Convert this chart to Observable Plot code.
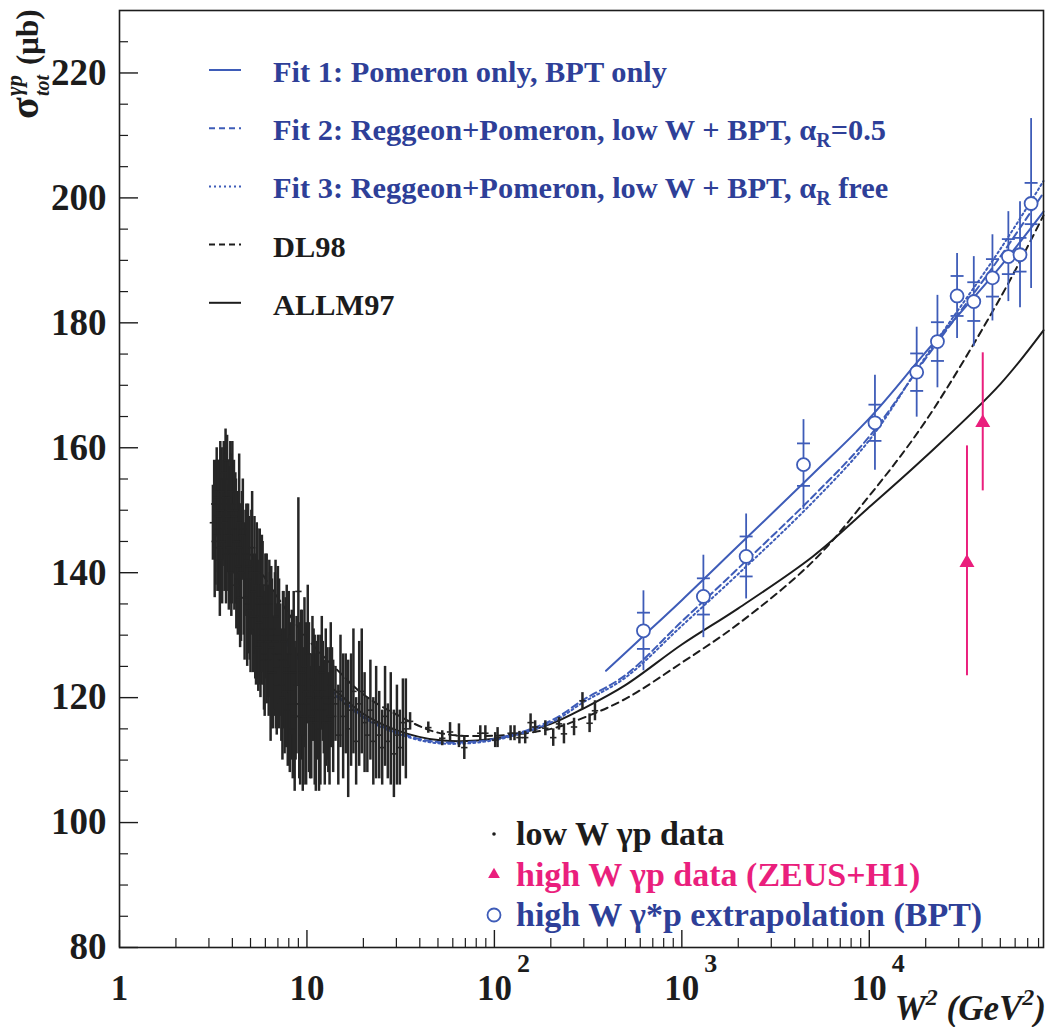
<!DOCTYPE html>
<html><head><meta charset="utf-8">
<script src="https://cdn.jsdelivr.net/npm/d3@7"></script>
<script src="https://cdn.jsdelivr.net/npm/@observablehq/plot@0.6"></script>
<style>body{margin:0;background:#fff}#chart{width:1051px;height:1027px}</style>
</head><body><div id="chart"></div>
<script>
// ---------- data ----------
const curveW2 = [3.2, 5, 7, 10, 15, 20, 30, 50, 100, 200, 300, 500, 1000, 2000, 5000, 10000, 20000, 50000, 85000];
const allm97  = [148, 138, 131.5, 125, 120.5, 117.4, 114.8, 113.2, 113.4, 115.8, 118.3, 122, 128.5, 134.3, 142.6, 150.5, 158.6, 170.2, 178.8];
const dl98    = [155, 143, 136, 129.5, 124, 120.5, 117.3, 114.4, 113.9, 115, 116.8, 119.8, 125.6, 131.8, 141.8, 152.3, 164.3, 184, 197.2];
const fit2    = [147, 138.5, 131, 124.8, 120, 117, 114.5, 112.9, 113.4, 116.3, 119.7, 123.6, 132.2, 140.7, 152.2, 161.8, 174.3, 190.6, 200.8];
const fit3    = [146.5, 138, 130.7, 124.5, 119.7, 116.8, 114.3, 112.7, 113.2, 116, 119.3, 123.2, 131.5, 139.8, 151.3, 161.2, 174.6, 191.8, 202.7];
const fit1W2  = [394, 600, 1000, 2000, 5000, 10000, 20000, 50000, 85000];
const fit1    = [124.3, 129.4, 135.6, 144.3, 155.8, 164.7, 175.3, 189, 197.8];

const lowW2 = [3.15,3.2,3.25,3.3,3.35,3.4,3.45,3.5,3.55,3.6,3.65,3.7,3.75,3.8,3.85,3.9,3.95,4.0,4.05,4.1,4.15,4.2,4.25,4.3,4.35,4.4,4.5,4.6,4.7,4.8,4.9,5.0,5.1,5.2,5.3,5.4,5.5,5.6,5.7,5.8,5.9,6.0,6.2,6.3,6.4,6.5,6.7,6.8,6.9,7.0,7.2,7.4,7.5,7.7,7.9,8.0,8.2,8.4,8.5,8.7,9.0,9.1,9.3,9.5,9.7,9.9,10.1,10.4,10.7,11.0,11.3,11.6,12.0,12.3,12.6,13.0,13.4,13.8,14.2,14.7,15.1,15.6,16.1,16.6,17.2,17.7,18.3,19.0,19.6,20.3,21.0,21.8,22.6,23.4,24.3,25.2,26.1,27.0,28.0,29.1,30.2,31.3,32.5,33.7,
  35.5,44.4,52.7,58,64.7,69.1,84.1,89.5,101,104,122,128,136,146,156,165,187,206,221,235,266,295,322,344];
const lowSig = [148,151,146,153,149,144,155,150,147,156,152,143,158,149,146,153,140,151,147,143,150,138,145,141,148,136,146,139,143,135,141,131,144,137,133,140,128,136,131,138,126,133,129,135,124,131,127,133,122,130,126,120,129,124,118,127,121,115,124,119,137,117,122,114,125,119,127,116,123,118,121,115,124,118,120,116,122,117,119,114,121,117,119,115,118,121,113,119,121,116,114,118,113,116,114,112,117,113,115,111,114,112,116,115,
  116.2,115.2,113.5,114.5,113.9,112,114.3,114.3,113.2,113.6,114.3,114.3,113.6,113.6,116,115.3,115.1,113.6,115.8,114.2,115.3,119.5,115.9,117.9];
const lowErr = [6,7,8,7,9,7,6,8,6,5,7,8,4,9,6,8,7,10,5,9,6,7,8,6,11,8,7,9,7,10,8,7,9,6,10,8,7,11,9,7,8,10,9,7,11,8,10,9,8,11,9,10,8,12,9,10,11,8,13,9,15,10,12,9,11,13,11,9,10,12,8,10,9,7,11,8,10,9,6,8,9,10,8,11,9,10,7,10,10,8,6,8,7,9,7,6,8,6,9,7,8,6,7,8,
  1.4,0.9,1.2,1.5,1.9,1.9,1.2,1.2,1.2,1.6,1.2,1.2,1.0,1.0,1.4,1.0,1.2,1.4,1.0,1.6,1.4,1.3,1.5,1.6];
// additional points of the densely populated low-energy region
const denseW2  = [3.22,3.28,3.33,3.38,3.43,3.48,3.53,3.58,3.63,3.68,3.73,3.78,3.83,3.88,3.93,3.98,4.08,4.18,4.28,4.38,4.45,4.55,4.65,4.75,4.85,4.95,5.05,5.15,5.25,5.35,5.45,5.55,5.65,5.75,5.85,5.95,6.1,6.25,6.35,6.45,6.6,6.75,6.85,7.1,7.3,7.45,7.6,7.8,8.1,8.3,8.6,8.8,9.2,9.4,9.6,9.8,10.25,10.55,10.85,11.15,11.45,11.8,12.15,12.45,12.8,13.2,13.6];
const denseSig = [145,152,147,150,142,153,145,151,148,155,146,152,144,150,147,143,149,145,139,144,140,147,136,142,139,134,140,133,138,130,135,132,129,135,130,127,131,126,130,128,124,129,125,127,122,126,121,125,119,124,117,122,119,124,117,121,120,117,122,116,120,118,121,116,119,117,120];
const denseErr = [9,6,10,8,9,7,10,9,11,8,9,6,10,7,12,8,9,10,9,7,11,8,10,9,12,8,10,9,11,8,12,10,9,11,8,10,12,9,10,13,9,11,10,12,9,11,10,13,11,10,12,11,13,10,11,9,12,10,9,11,10,12,8,10,9,11,8];

const bptW2   = [624, 1303, 2203, 4457, 10720, 17900, 23100, 29400, 36100, 45400, 55200, 63700, 73000];
const bptSig  = [130.7, 136.2, 142.6, 157.3, 164.0, 172.1, 177.0, 184.3, 183.4, 187.2, 190.6, 190.9, 199.1];
const bptStat = [2.9, 2.9, 3.2, 3.4, 2.9, 3.0, 3.1, 3.2, 3.1, 3.0, 2.8, 2.7, 3.3];
const bptTot  = [6.4, 6.6, 6.8, 7.2, 7.6, 7.2, 7.4, 6.8, 7.2, 6.9, 7.2, 8.5, 13.6];

const hiW2  = [33200, 40300];
const hiSig = [141.6, 164.0];
const hiLo  = [123.5, 153.1];
const hiHi  = [160.3, 175.2];

const yMajor = [80, 100, 120, 140, 160, 180, 200, 220];
const yMinor = [85, 90, 95, 105, 110, 115, 125, 130, 135, 145, 150, 155, 165, 170, 175, 185, 190, 195, 205, 210, 215, 225];
const xMajor = [1, 10, 100, 1000, 10000];
const xMinor = [2,3,4,5,6,7,8,9,20,30,40,50,60,70,80,90,200,300,400,500,600,700,800,900,2000,3000,4000,5000,6000,7000,8000,9000,20000,30000,40000,50000,60000,70000,80000];
const xBaseLabels = ["1", "10", "10", "10", "10"];
const xExpLabels = ["", "", "2", "3", "4"];

const legendTop = [
  {key: "fit1", parts: [["Fit 1: Pomeron only, BPT only"]]},
  {key: "fit2", parts: [["Fit 2: Reggeon+Pomeron, low W + BPT, α"], ["R", "sub"], ["=0.5"]]},
  {key: "fit3", parts: [["Fit 3: Reggeon+Pomeron, low W + BPT, α"], ["R", "sub"], [" free"]]},
  {key: "dl98", parts: [["DL98"]]},
  {key: "allm", parts: [["ALLM97"]]}
];
const legendBottom = [
  {key: "low", text: "low W γp data"},
  {key: "high", text: "high W γp data (ZEUS+H1)"},
  {key: "bpt", text: "high W γ*p extrapolation (BPT)"}
];

// ---------- build ----------
const W = 1051, H = 1027, mL = 119, mR = 8, mT = 10, mB = 80;
const pw = W - mL - mR, ph = H - mT - mB;
const serif = "'Liberation Serif','Times New Roman',serif";
const black = "#1c1c1c", blue = "#3e5cb8", blueText = "#2e3f98", pink = "#ea1f7d";

const curveRows = curveW2.map((w, i) => ({w, allm: allm97[i], dl: dl98[i], f2: fit2[i], f3: fit3[i]}));
const fit1Rows = fit1W2.map((w, i) => ({w, s: fit1[i]}));
const lowRows = lowW2.map((w, i) => ({w, s: lowSig[i], e: lowErr[i]}))
  .concat(denseW2.map((w, i) => ({w, s: denseSig[i], e: denseErr[i]})));
const bptRows = bptW2.map((w, i) => ({w, s: bptSig[i], st: bptStat[i], tot: bptTot[i]}));
const hiRows = hiW2.map((w, i) => ({w, s: hiSig[i], lo: hiLo[i], hi: hiHi[i]}));
const xLab = xMajor.map((v, i) => ({v, b: xBaseLabels[i], e: xExpLabels[i]}));

const hline = {draw(ctx, size) { const r = Math.sqrt(size / Math.PI); ctx.moveTo(-r, 0); ctx.lineTo(r, 0); }};

const plot = Plot.plot({
  width: W, height: H,
  marginLeft: mL, marginRight: mR, marginTop: mT, marginBottom: mB,
  x: {type: "log", domain: [1, 85000]},
  y: {domain: [80, 230]},
  style: {background: "white", fontFamily: serif, color: black},
  marks: [
    Plot.tickY(yMajor, {y: d => d, stroke: black, strokeWidth: 1.4, insetRight: pw - 19}),
    Plot.tickY(yMinor, {y: d => d, stroke: black, strokeWidth: 1.2, insetRight: pw - 9}),
    Plot.tickX(xMajor, {x: d => d, stroke: black, strokeWidth: 1.4, insetTop: ph - 17}),
    Plot.tickX(xMinor, {x: d => d, stroke: black, strokeWidth: 1.2, insetTop: ph - 9}),
    Plot.axisY(yMajor, {tickSize: 0, tickPadding: 13, fontSize: 37, fontWeight: "bold", fill: black, label: null}),
    Plot.axisX(xMajor, {tickSize: 0, tickPadding: 28, fontSize: 35, fontWeight: "bold", fill: black, label: null, tickFormat: d => xBaseLabels[xMajor.indexOf(d)]}),
    Plot.text(xLab, {x: "v", text: "e", frameAnchor: "bottom", dx: 29, dy: 24, fontSize: 26, fontWeight: "bold", fill: black}),
    // curves
    Plot.line(curveRows, {x: "w", y: "allm", stroke: black, strokeWidth: 2, curve: "catmull-rom"}),
    Plot.line(curveRows, {x: "w", y: "dl", stroke: black, strokeWidth: 2, strokeDasharray: "7,5", curve: "catmull-rom"}),
    Plot.line(curveRows, {x: "w", y: "f2", stroke: blue, strokeWidth: 2, strokeDasharray: "7,4", curve: "catmull-rom"}),
    Plot.line(curveRows, {x: "w", y: "f3", stroke: blue, strokeWidth: 2, strokeDasharray: "2,3", curve: "catmull-rom"}),
    Plot.line(fit1Rows, {x: "w", y: "s", stroke: blue, strokeWidth: 2, curve: "catmull-rom"}),
    // low W data
    Plot.ruleX(lowRows, {x: "w", y1: d => d.s - d.e, y2: d => d.s + d.e, stroke: "#262626", strokeWidth: 2.5}),
    Plot.dot(lowRows, {x: "w", y: "s", symbol: hline, r: 3.2, fill: "none", stroke: "#262626", strokeWidth: 1.6}),
    // high W BPT
    Plot.ruleX(bptRows, {x: "w", y1: d => d.s - d.tot, y2: d => d.s + d.tot, stroke: blue, strokeWidth: 1.8}),
    Plot.dot(bptRows, {x: "w", y: d => d.s - d.st, symbol: hline, r: 6.5, fill: "none", stroke: blue, strokeWidth: 1.8}),
    Plot.dot(bptRows, {x: "w", y: d => d.s + d.st, symbol: hline, r: 6.5, fill: "none", stroke: blue, strokeWidth: 1.8}),
    Plot.dot(bptRows, {x: "w", y: "s", r: 6.5, fill: "white", stroke: blue, strokeWidth: 1.8}),
    // high W photoproduction
    Plot.ruleX(hiRows, {x: "w", y1: "lo", y2: "hi", stroke: pink, strokeWidth: 2}),
    Plot.dot(hiRows, {x: "w", y: "s", symbol: "triangle", r: 4.6, fill: pink, stroke: pink}),
    Plot.frame({stroke: black, strokeWidth: 1.6})
  ]
});
document.getElementById("chart").appendChild(plot);

const svg = d3.select(plot);
const styles = {
  fit1: {stroke: blue, dash: null, color: blueText},
  fit2: {stroke: blue, dash: "6,4", color: blueText},
  fit3: {stroke: blue, dash: "2,3", color: blueText},
  dl98: {stroke: black, dash: "6,4", color: black},
  allm: {stroke: black, dash: null, color: black}
};
legendTop.forEach((row, i) => {
  const st = styles[row.key];
  const base = 82 + i * 58.2;
  svg.append("line").attr("x1", 209).attr("x2", 241).attr("y1", base - 12).attr("y2", base - 12)
    .attr("stroke", st.stroke).attr("stroke-width", 2).attr("stroke-dasharray", st.dash);
  const t = svg.append("text").attr("x", 273).attr("y", base).attr("text-anchor", "start").attr("font-family", serif)
    .attr("font-weight", "bold").attr("font-size", 30.4).attr("fill", st.color);
  let shifted = false;
  row.parts.forEach(([s, kind]) => {
    if (kind === "sub") { t.append("tspan").attr("font-size", 20).attr("dy", 7).text(s); shifted = true; }
    else { t.append("tspan").attr("dy", shifted ? -7 : 0).text(s); shifted = false; }
  });
});
const bCols = {low: black, high: pink, bpt: blueText};
legendBottom.forEach((row, i) => {
  const base = 845 + i * 40.5;
  const cy = base - 11;
  if (row.key === "low") svg.append("circle").attr("cx", 494).attr("cy", cy).attr("r", 1.8).attr("fill", black);
  if (row.key === "high") svg.append("path").attr("d", d3.symbol(d3.symbolTriangle, 60)()).attr("transform", `translate(494,${cy})`).attr("fill", pink);
  if (row.key === "bpt") svg.append("circle").attr("cx", 494).attr("cy", cy).attr("r", 6.5).attr("fill", "white").attr("stroke", blue).attr("stroke-width", 1.8);
  svg.append("text").attr("x", 516).attr("y", base).attr("text-anchor", "start").attr("font-family", serif).attr("font-weight", "bold")
    .attr("font-size", 34).attr("fill", bCols[row.key]).text(row.text);
});
// y-axis title
const yl = svg.append("g").attr("transform", "translate(38,119) rotate(-90)").attr("font-family", serif)
  .attr("font-weight", "bold").attr("fill", black).attr("text-anchor", "start");
yl.append("text").attr("x", 0).attr("y", 0).attr("font-size", 40).text("σ");
yl.append("text").attr("x", 23).attr("y", -16).attr("font-size", 23).attr("font-style", "italic").text("γp");
yl.append("text").attr("x", 23).attr("y", 11).attr("font-size", 20).attr("font-style", "italic").text("tot");
yl.append("text").attr("x", 54).attr("y", 0).attr("font-size", 31).text("(μb)");
// x-axis title
const xl = svg.append("text").attr("x", 1046).attr("y", 1020).attr("text-anchor", "end").attr("font-family", serif)
  .attr("font-weight", "bold").attr("font-style", "italic").attr("font-size", 35).attr("fill", black);
xl.append("tspan").text("W");
xl.append("tspan").attr("font-size", 24).attr("dy", -15).text("2");
xl.append("tspan").attr("dy", 15).text(" (GeV");
xl.append("tspan").attr("font-size", 24).attr("dy", -15).text("2");
xl.append("tspan").attr("dy", 15).text(")");
</script></body></html>
